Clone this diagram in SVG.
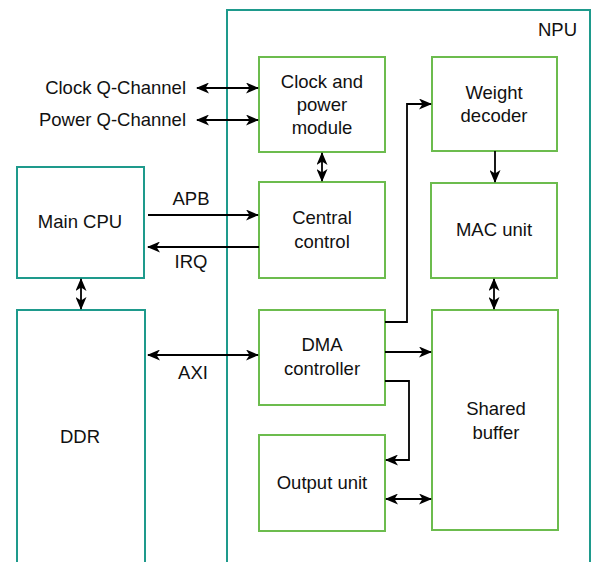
<svg xmlns="http://www.w3.org/2000/svg" width="594" height="562" viewBox="0 0 594 562">
<defs>
<style>
.teal{fill:#ffffff;stroke:#1e9a8c;stroke-width:2}
.green{fill:#ffffff;stroke:#6cbc4e;stroke-width:2}
.lbl{font-family:"Liberation Sans",Arial,sans-serif;font-size:18.5px;fill:#111111}
.c{text-anchor:middle}
.e{fill:none;stroke:#000000;stroke-width:1.8}
</style>
<marker id="ah" viewBox="0 0 13 11" refX="12" refY="5.5" markerWidth="13" markerHeight="11" markerUnits="userSpaceOnUse" orient="auto-start-reverse">
<path d="M0,0 L13,5.5 L0,11 L3.5,5.5 Z" fill="#000000"/>
</marker>
</defs>
<rect width="594" height="562" fill="#ffffff"/>
<g id="npu">
<rect class="teal" x="227" y="10" width="363" height="560"/>
<text class="lbl" x="577" y="36" text-anchor="end">NPU</text>
</g>
<g id="main-cpu">
<rect class="teal" x="17" y="167" width="127" height="111"/>
<text class="lbl c" x="80" y="228">Main CPU</text>
</g>
<g id="ddr">
<rect class="teal" x="17" y="310" width="128" height="262"/>
<text class="lbl c" x="80" y="443">DDR</text>
</g>
<g id="clock-power">
<rect class="green" x="259" y="57" width="126" height="95"/>
<text class="lbl c" x="322" y="88">Clock and</text>
<text class="lbl c" x="322" y="111">power</text>
<text class="lbl c" x="322" y="134">module</text>
</g>
<g id="weight-decoder">
<rect class="green" x="432" y="57" width="125" height="94"/>
<text class="lbl c" x="494" y="99">Weight</text>
<text class="lbl c" x="494" y="122">decoder</text>
</g>
<g id="central-control">
<rect class="green" x="259" y="182" width="126" height="96"/>
<text class="lbl c" x="322" y="224">Central</text>
<text class="lbl c" x="322" y="248">control</text>
</g>
<g id="mac-unit">
<rect class="green" x="431" y="183" width="126" height="95"/>
<text class="lbl c" x="494" y="236">MAC unit</text>
</g>
<g id="dma">
<rect class="green" x="259" y="310" width="126" height="95"/>
<text class="lbl c" x="322" y="351">DMA</text>
<text class="lbl c" x="322" y="375">controller</text>
</g>
<g id="shared-buffer">
<rect class="green" x="432" y="310" width="126" height="220"/>
<text class="lbl c" x="496" y="415">Shared</text>
<text class="lbl c" x="496" y="439">buffer</text>
</g>
<g id="output-unit">
<rect class="green" x="259" y="435" width="126" height="96"/>
<text class="lbl c" x="322" y="489">Output unit</text>
</g>
<g id="external-labels">
<text class="lbl" x="186" y="94" text-anchor="end">Clock Q-Channel</text>
<text class="lbl" x="186" y="126" text-anchor="end">Power Q-Channel</text>
</g>
<g id="connectors">
<path class="e" d="M197,88 L258,88" marker-start="url(#ah)" marker-end="url(#ah)"/>
<path class="e" d="M197,120 L258,120" marker-start="url(#ah)" marker-end="url(#ah)"/>
<path class="e" d="M322,153 L322,181" marker-start="url(#ah)" marker-end="url(#ah)"/>
<path class="e" d="M148,215 L258,215" marker-end="url(#ah)"/>
<text class="lbl c" x="191" y="205">APB</text>
<path class="e" d="M259,247 L148,247" marker-end="url(#ah)"/>
<text class="lbl c" x="191" y="268">IRQ</text>
<path class="e" d="M81,279 L81,309" marker-start="url(#ah)" marker-end="url(#ah)"/>
<path class="e" d="M148,355 L258,355" marker-start="url(#ah)" marker-end="url(#ah)"/>
<text class="lbl c" x="193" y="379">AXI</text>
<path class="e" d="M385,322 L407,322 L407,104 L431,104" marker-end="url(#ah)"/>
<path class="e" d="M495,151 L495,182" marker-end="url(#ah)"/>
<path class="e" d="M494,279 L494,309" marker-start="url(#ah)" marker-end="url(#ah)"/>
<path class="e" d="M385,352 L431,352" marker-end="url(#ah)"/>
<path class="e" d="M385,381 L409,381 L409,460 L386,460" marker-end="url(#ah)"/>
<path class="e" d="M386,499 L431,499" marker-start="url(#ah)" marker-end="url(#ah)"/>
</g>
</svg>
